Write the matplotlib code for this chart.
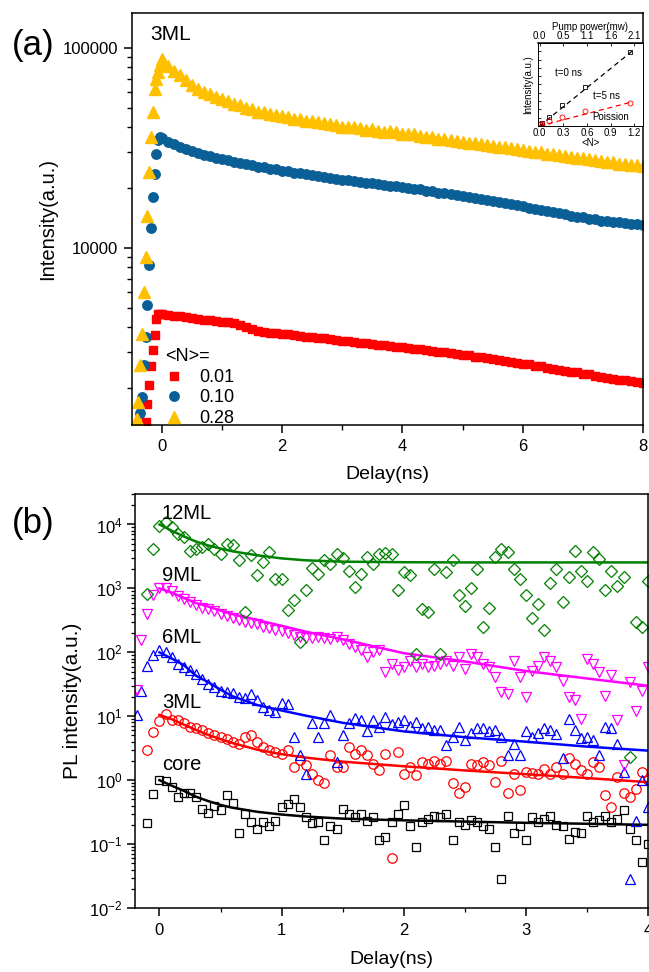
import numpy as np
import matplotlib
matplotlib.use("Agg")
import matplotlib.pyplot as plt
from matplotlib.ticker import (LogLocator, NullFormatter, FuncFormatter,
                               MultipleLocator, FormatStrFormatter)

plt.rcParams.update({"font.family": ["Liberation Sans", "DejaVu Sans"],
                     "mathtext.default": "regular",
                     "axes.linewidth": 1.1})

nan = np.nan

# ---- panel (a): 3ML decays at three <N> ---------------------------------
t_a = [-0.42, -0.39, -0.36, -0.33, -0.30, -0.27, -0.24, -0.21, -0.18, -0.15,
       -0.12, -0.09, -0.06, -0.03,
       0.0, 0.1, 0.2, 0.3, 0.4, 0.5, 0.6, 0.7, 0.8, 0.9,
       1.0, 1.1, 1.2, 1.3, 1.4, 1.5, 1.6, 1.7, 1.8, 1.9,
       2.0, 2.1, 2.2, 2.3, 2.4, 2.5, 2.6, 2.7, 2.8, 2.9,
       3.0, 3.1, 3.2, 3.3, 3.4, 3.5, 3.6, 3.7, 3.8, 3.9,
       4.0, 4.1, 4.2, 4.3, 4.4, 4.5, 4.6, 4.7, 4.8, 4.9,
       5.0, 5.1, 5.2, 5.3, 5.4, 5.5, 5.6, 5.7, 5.8, 5.9,
       6.0, 6.1, 6.2, 6.3, 6.4, 6.5, 6.6, 6.7, 6.8, 6.9,
       7.0, 7.1, 7.2, 7.3, 7.4, 7.5, 7.6, 7.7, 7.8, 7.9, 8.0]
n001 = [nan, nan, nan, nan, nan, 1350, 1650, 2050, 2550, 3100,
        3650, 4400, 4650, 4650,
        4650, 4600, 4560, 4540, 4500, 4450, 4430, 4380, 4350, 4330,
        4280, 4260, 4200, 4110, 4020, 3920, 3860, 3800, 3770, 3730,
        3700, 3690, 3650, 3630, 3600, 3590, 3550, 3530, 3490, 3470,
        3430, 3410, 3380, 3360, 3330, 3310, 3280, 3260, 3230, 3210,
        3180, 3160, 3120, 3110, 3070, 3060, 3020, 3010, 2970, 2950,
        2910, 2900, 2860, 2840, 2800, 2790, 2750, 2730, 2690, 2670,
        2630, 2610, 2570, 2550, 2510, 2490, 2450, 2430, 2400, 2380,
        2340, 2330, 2290, 2270, 2240, 2220, 2190, 2180, 2150, 2140, 2110]
n010 = [nan, 1250, 1500, 1800, 2600, 3600, 5200, 8200, 12500, 18000,
        23500, 29500, 34500, 36000,
        35500, 34000, 33000, 32100, 31200, 30600, 29800, 29300, 28700, 28300,
        27800, 27400, 27000, 26700, 26200, 26000, 25500, 25300, 24900, 24700,
        24300, 24100, 23800, 23600, 23300, 23100, 22800, 22700, 22300, 22200,
        21900, 21800, 21500, 21400, 21200, 21100, 20800, 20700, 20500, 20400,
        20100, 20000, 19700, 19600, 19300, 19200, 18900, 18800, 18500, 18400,
        18100, 17900, 17700, 17500, 17300, 17100, 16900, 16700, 16500, 16300,
        16100, 15900, 15700, 15500, 15300, 15100, 14900, 14700, 14500, 14300,
        14200, 14000, 13900, 13700, 13600, 13500, 13400, 13300, 13200, 13100, 13000]
n028 = [1400, 1700, 2600, 3700, 6000, 9000, 14500, 24000, 36000, 48000,
        62000, 70000, 76000, 82000,
        88000, 81000, 77000, 73000, 69500, 65000, 62500, 60500, 58500, 57000,
        55500, 54200, 52500, 51700, 50000, 49200, 47800, 47600, 46500, 46200,
        45500, 45200, 44300, 44100, 43200, 43000, 42500, 42000, 41500, 41200,
        40300, 40100, 40200, 39600, 39000, 39400, 38600, 38100, 38300, 37800,
        37200, 36900, 36900, 36400, 35800, 35700, 35200, 35100, 34500, 34300,
        34000, 33600, 33300, 33100, 32600, 32400, 32000, 31900, 31400, 31100,
        30800, 30600, 30200, 30000, 29600, 29400, 29000, 28900, 28500, 28300,
        28000, 27800, 27400, 27300, 26900, 26800, 26400, 26300, 26000, 25900, 25600]
legend_vals = ["0.01", "0.10", "0.28"]

# ---- inset: intensity vs <N> ---------------------------------------------
inset_n = [0.01, 0.03, 0.12, 0.28, 0.57, 1.15]
inset_t0 = [0.02, 0.035, 0.11, 0.25, 0.47, 0.89]
inset_t5 = [0.02, 0.025, 0.064, 0.104, 0.18, 0.276]
inset_fit_n = [0.0, 1.17]
inset_fit_t0 = [0.0, 0.90]
inset_fit_t5 = [0.0, 0.29]

# ---- panel (b): PL decays for core and shells ----------------------------
t_b = [-0.18, -0.15, -0.10, -0.05,
       0.00, 0.05, 0.10, 0.15, 0.20, 0.25, 0.30, 0.35, 0.40, 0.45,
       0.50, 0.55, 0.60, 0.65, 0.70, 0.75, 0.80, 0.85, 0.90, 0.95,
       1.00, 1.05, 1.10, 1.15, 1.20, 1.25, 1.30, 1.35, 1.40, 1.45,
       1.50, 1.55, 1.60, 1.65, 1.70, 1.75, 1.80, 1.85, 1.90, 1.95,
       2.00, 2.05, 2.10, 2.15, 2.20, 2.25, 2.30, 2.35, 2.40, 2.45,
       2.50, 2.55, 2.60, 2.65, 2.70, 2.75, 2.80, 2.85, 2.90, 2.95,
       3.00, 3.05, 3.10, 3.15, 3.20, 3.25, 3.30, 3.35, 3.40, 3.45,
       3.50, 3.55, 3.60, 3.65, 3.70, 3.75, 3.80, 3.85, 3.90, 3.95,
       4.00]
core = [nan, nan, 0.21, 0.60,
        1.0, 0.98, 0.78, 0.55, 0.62, 0.62, 0.55, 0.36, 0.31, 0.40,
        0.34, 0.59, 0.44, 0.15, 0.30, 0.22, 0.17, 0.22, 0.19, 0.23,
        0.38, 0.43, 0.51, 0.38, 0.27, 0.21, 0.22, 0.115, 0.19, 0.17,
        0.36, 0.30, 0.27, 0.30, 0.23, 0.27, 0.115, 0.13, 0.22, 0.30,
        0.41, 0.19, 0.09, 0.22, 0.25, 0.28, 0.27, 0.30, 0.115, 0.22,
        0.20, 0.24, 0.22, 0.19, 0.17, 0.09, 0.028, 0.28, 0.15, 0.19,
        0.115, 0.27, 0.22, 0.25, 0.28, 0.20, 0.19, 0.12, 0.155, 0.15,
        0.28, 0.22, 0.24, 0.28, 0.22, 0.25, 0.34, 0.17, 0.115, 0.052,
        0.10]
ml3 = [nan, nan, 3.0, 5.7,
       8.5, 11.0, 8.7, 8.8, 7.8, 6.8, 6.5, 6.0, 5.4, 5.0,
       4.7, 4.4, 4.0, 3.7, 4.8, 5.0, 4.0, 3.3, 3.0, 2.8,
       2.6, 3.0, 1.6, 2.1, 1.7, 1.26, 1.0, 0.9, 2.45, 1.6,
       1.6, 3.3, 2.6, 3.0, 2.5, 1.8, 1.45, 2.6, 0.06, 2.75,
       1.26, 1.6, 1.2, 1.9, 1.8, 2.0, 1.8, 2.0, 0.9, 0.62,
       0.79, 1.8, 1.7, 1.9, 1.7, 0.93, 2.0, 0.62, 1.26, 0.7,
       1.35, 1.3, 1.26, 1.5, 1.26, 1.6, 1.26, 2.2, 1.8, 1.45,
       1.26, 1.95, 1.6, 0.59, 0.38, 1.12, 0.62, 0.55, 0.74, 1.35,
       1.0]
ml6 = [10.5, 25, 62, 90,
       107, 100, 85, 65, 58, 52, 46, 38, 32, 29,
       25, 24, 23, 20, 19, 22, 18, 14, 12.5, 11.7,
       16, 15.5, 4.8, 2.45, 1.26, 7.8, 4.8, 7.8, 10.5, 1.95,
       5.0, 7.8, 9.5, 8.7, 5.8, 8.7, 6.8, 9.8, 7.5, 8.1,
       8.7, 7.0, 8.1, 6.5, 6.8, 6.0, 6.0, 3.5, 4.8, 6.8,
       4.3, 5.5, 6.5, 6.5, 5.8, 6.0, 4.8, 2.45, 3.7, 2.45,
       5.8, 4.8, 5.5, 6.5, 6.0, 5.2, 2.2, 9.1, 6.0, 4.5,
       4.8, 4.3, 2.45, 6.8, 6.5, 3.7, 1.35, 0.028, 0.23, 1.0,
       0.38]
ml9 = [26, 155, 400, 800,
       1000, 1000, 900, 750, 680, 610, 550, 500, 480, 450,
       400, 370, 350, 320, 300, 290, 280, 250, 240, 225,
       215, 200, 190, 175, 170, 165, 175, 165, 160, 175,
       155, 135, 120, 107, 85, 100, 107, 49, 66, 52,
       59, 74, 60, 66, 59, 62, 66, 74, 62, 85,
       55, 95, 85, 66, 59, 41, 24, 22, 74, 41,
       20, 51, 62, 85, 74, 60, 36, 20, 18, 9.1,
       79, 66, 49, 21, 44, 8.7, 1.7, 34, 12.3, 25,
       59]
ml12 = [nan, nan, 830, 4200,
        9400, 11000, 9100, 7200, 6300, 3900, 4200, 4400, 5000, 4200,
        3500, 5000, 4700, 2750, 430, 3300, 1600, 2600, 3700, 1400,
        1400, 460, 650, 145, 930, 2100, 1700, 2750, 2400, 3500,
        3000, 1900, 1050, 1700, 3100, 2400, 3500, 3600, 3500, 930,
        1800, 1600, 95, 480, 430, 2000, 95, 1800, 2750, 780,
        540, 1000, 2000, 250, 500, 3100, 4200, 3700, 2000, 1400,
        800, 340, 580, 220, 1200, 2000, 620, 1500, 3900, 1900,
        1300, 3700, 2900, 930, 1900, 1100, 1500, 2.3, 300, 250,
        1300]

# fitted curves
fit_t = [0.0, 0.1, 0.2, 0.3, 0.4, 0.5, 0.6, 0.8, 1.0, 1.2, 1.5, 2.0, 2.5, 3.0, 3.5, 4.0]
fit_core = [1.0, 0.82, 0.68, 0.55, 0.47, 0.41, 0.37, 0.32, 0.29, 0.27, 0.25, 0.235, 0.225, 0.215, 0.208, 0.20]
fit_3 = [10.5, 9.0, 7.4, 6.1, 5.1, 4.4, 3.8, 3.0, 2.55, 2.25, 1.95, 1.65, 1.42, 1.24, 1.08, 0.93]
fit_6 = [100, 80, 63, 43, 34, 26, 20.5, 15, 12.3, 10.2, 7.9, 5.8, 4.7, 4.0, 3.35, 2.9]
fit_9 = [1000, 860, 710, 590, 520, 450, 395, 320, 260, 210, 160, 97, 72, 51, 39, 30]
fit_12 = [10000, 8000, 6500, 5400, 4700, 4200, 3800, 3300, 2950, 2750, 2620, 2570, 2550, 2550, 2550, 2550]

RED, BLUE_A, YEL = "#FF0000", "#0A5F96", "#FFC000"
GREEN, MAG, BLUE = "#008000", "#FF00FF", "#0000FF"

fig = plt.figure(figsize=(6.49, 9.72), dpi=100)
W, H = 649.0, 972.0

# ---------------- (a) ----------------
ax = fig.add_axes([131.7 / W, 1 - 425 / H, (643 - 131.7) / W, (425 - 12.7) / H])
ax.plot(t_a, n001, ls="none", marker="s", ms=6.0, color=RED, label=legend_vals[0])
ax.plot(t_a, n010, ls="none", marker="o", ms=6.8, color=BLUE_A, label=legend_vals[1])
ax.plot(t_a, n028, ls="none", marker="^", ms=8.0, color=YEL, label=legend_vals[2])
ax.set_yscale("log")
ax.set_xlim(-0.5, 8)
ax.set_ylim(1300, 150000)
ax.xaxis.set_major_locator(MultipleLocator(2))
ax.xaxis.set_minor_locator(MultipleLocator(1))
ax.yaxis.set_major_formatter(FuncFormatter(lambda v, p: f"{v:.0f}"))
ax.yaxis.set_minor_formatter(NullFormatter())
ax.tick_params(which="major", direction="out", length=6, width=1.1, labelsize=12, pad=4)
ax.tick_params(which="minor", direction="out", length=3.5, width=1.0)
ax.set_xlabel("Delay(ns)", fontsize=14, labelpad=9)
ax.set_ylabel("Intensity(a.u.)", fontsize=14.5)
ax.text(0.036, 0.946, "3ML", transform=ax.transAxes, fontsize=15, va="center")
leg = ax.legend(title="<N>=", loc="lower left", bbox_to_anchor=(0.065, -0.005),
                frameon=False, fontsize=13, title_fontsize=13, borderpad=0,
                borderaxespad=0, handlelength=1.0, handletextpad=0.9,
                labelspacing=0.2, alignment="left")

# inset
axi = fig.add_axes([538 / W, 1 - 126 / H, 105 / W, 83 / H])
axi.plot(inset_fit_n, inset_fit_t0, ls=(0, (4, 3)), lw=0.9, color="black")
axi.plot(inset_fit_n, inset_fit_t5, ls=(0, (4, 3)), lw=0.9, color="red")
axi.plot(inset_n, inset_t0, ls="none", marker="s", ms=3.4, mfc="none", mec="black", mew=0.6)
axi.plot(inset_n, inset_t5, ls="none", marker="o", ms=3.6, mfc="none", mec="red", mew=0.6)
axi.set_xlim(-0.02, 1.31)
axi.set_ylim(0, 1)
axi.set_xticks([0.0, 0.3, 0.6, 0.9, 1.2])
axi.xaxis.set_major_formatter(FormatStrFormatter("%.1f"))
axi.yaxis.set_major_locator(MultipleLocator(0.1))
axi.yaxis.set_major_formatter(NullFormatter())
axi.tick_params(direction="in", length=2, width=0.6, labelsize=7, pad=1.5)
for s in axi.spines.values():
    s.set_linewidth(0.7)
sec = axi.secondary_xaxis("top", functions=(lambda x: x * 1.75, lambda x: x / 1.75))
sec.set_xticks([0.0, 0.525, 1.05, 1.575, 2.1], labels=["0.0", "0.5", "1.1", "1.6", "2.1"])
sec.tick_params(direction="in", length=2, width=0.6, labelsize=7, pad=1.5)
sec.set_xlabel("Pump power(mw)", fontsize=7, labelpad=1)
axi.set_xlabel("<N>", fontsize=7, labelpad=0)
axi.set_ylabel("Intensity(a.u.)", fontsize=7, labelpad=2)
axi.text(0.16, 0.64, "t=0 ns", transform=axi.transAxes, fontsize=7, va="center")
axi.text(0.52, 0.36, "t=5 ns", transform=axi.transAxes, fontsize=7, va="center")
axi.text(0.52, 0.11, "Poission", transform=axi.transAxes, fontsize=7, va="center")

# ---------------- (b) ----------------
bx = fig.add_axes([135 / W, 1 - 908 / H, (648 - 135) / W, (908 - 494) / H])
series = [(core, fit_core, "s", "black", 6.2),
          (ml3, fit_3, "o", RED, 6.8),
          (ml6, fit_6, "^", BLUE, 7.2),
          (ml9, fit_9, "v", MAG, 7.2),
          (ml12, fit_12, "D", GREEN, 6.2)]
for vals, fit, mk, col, ms in series:
    bx.plot(t_b, vals, ls="none", marker=mk, ms=ms, mfc="none", mec=col, mew=0.9)
    bx.plot(fit_t, fit, color=col, lw=1.8)
bx.set_yscale("log")
bx.set_xlim(-0.2, 4)
bx.set_ylim(1e-2, 3e4)
bx.xaxis.set_major_locator(MultipleLocator(1))
bx.xaxis.set_minor_locator(MultipleLocator(0.5))
bx.yaxis.set_major_locator(LogLocator(base=10, numticks=20))
bx.yaxis.set_minor_locator(LogLocator(base=10, subs=(2, 3, 4, 5, 6, 7, 8, 9), numticks=100))
bx.yaxis.set_minor_formatter(NullFormatter())
bx.tick_params(which="major", direction="out", length=6, width=1.1, labelsize=12, pad=3)
bx.tick_params(which="minor", direction="out", length=3, width=0.9)
bx.tick_params(axis="x", which="major", pad=5)
bx.set_xlabel("Delay(ns)", fontsize=14, labelpad=9)
bx.set_ylabel("PL intensity(a.u.)", fontsize=15, labelpad=5)
for name, yv in [("12ML", 1.5e4), ("9ML", 1.6e3), ("6ML", 171), ("3ML", 16.6), ("core", 1.78)]:
    bx.text(0.02, yv, name, fontsize=14.5, va="center", ha="left")

fig.text(12 / W, 1 - 45 / H, "(a)", fontsize=25, va="center")
fig.text(12 / W, 1 - 524 / H, "(b)", fontsize=25, va="center")

fig.savefig("out.png", dpi=100)
